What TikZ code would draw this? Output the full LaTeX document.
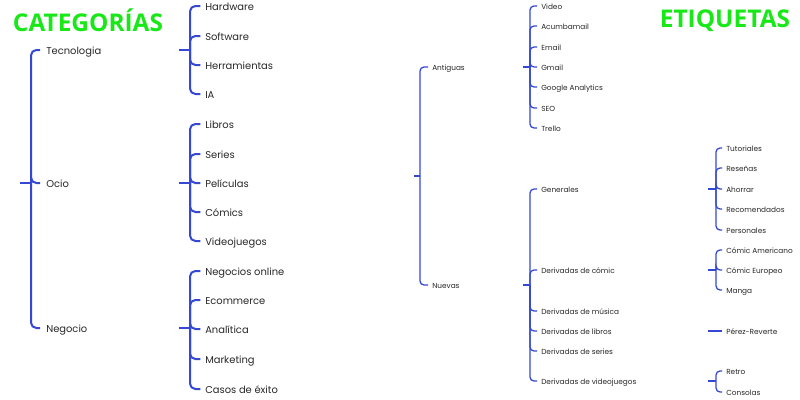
\documentclass[tikz,border=0pt]{standalone}
\usepackage{fontspec}
\setmainfont{Poppins}
\newfontfamily\titlefont{Open Sans}
\definecolor{treeblue}{RGB}{52,72,212}
\definecolor{titlegreen}{RGB}{24,232,24}
\definecolor{txt}{RGB}{40,40,40}
\tikzset{
  big/.style={draw=treeblue, line width=1.5pt, rounded corners=4pt},
  thin/.style={draw=treeblue, line width=0.95pt, rounded corners=3pt},
  lab/.style={anchor=west, inner sep=0pt, text height=6.2pt, text depth=0pt, text=txt, font=\fontsize{7.45}{9}\selectfont},
  slab/.style={anchor=west, inner sep=0pt, text height=4.5pt, text depth=0pt, text=txt, font=\fontsize{5.5}{7}\selectfont},
  ttl/.style={inner sep=0pt, text=titlegreen, font=\titlefont\bfseries\fontsize{18.3}{20}\selectfont},
}
\begin{document}
\begin{tikzpicture}[x=0.75pt,y=-0.75pt]
\fill[white] (0,0) rectangle (800,400);
\useasboundingbox (0,0) rectangle (800,400);

% titles
\node[ttl] (t1) at (88,20.5) {CATEGORÍAS};
\node[ttl] (t2) at (725,20.5) {ETIQUETAS};

% ---------- left tree ----------
\node[lab] (tec) at (46,50) {Tecnologia};
\node[lab] (ocio) at (46,183) {Ocio};
\node[lab] (neg) at (46,328) {Negocio};

\node[lab] (hw) at (205,6) {Hardware};
\node[lab] (sw) at (205,36) {Software};
\node[lab] (he) at (205,65) {Herramientas};
\node[lab] (ia) at (205,94) {IA};

\node[lab] (li) at (205,124) {Libros};
\node[lab] (se) at (205,154) {Series};
\node[lab] (pe) at (205,183) {Películas};
\node[lab] (co) at (205,212) {Cómics};
\node[lab] (vj) at (205,241) {Videojuegos};

\node[lab] (no) at (205,271) {Negocios online};
\node[lab] (ec) at (205,300) {Ecommerce};
\node[lab] (an) at (205,329) {Analítica};
\node[lab] (ma) at (205,359) {Marketing};
\node[lab] (ca) at (205,389) {Casos de éxito};

\coordinate (r0) at (20,183);
\coordinate (rv) at (31,183);
\draw[big] (r0) -- (rv);
\foreach \c in {tec,ocio,neg} \draw[big] (rv) |- ([xshift=-4.5pt]\c.west);

\coordinate (tj) at (179,50);  \coordinate (tv) at (190,50);
\coordinate (oj) at (179,183); \coordinate (ov) at (190,183);
\coordinate (nj) at (179,328); \coordinate (nv) at (190,328);
\draw[big] (tj) -- (tv);
\draw[big] (oj) -- (ov);
\draw[big] (nj) -- (nv);
\foreach \c in {hw,sw,he,ia} \draw[big] (tv) |- ([xshift=-3.5pt]\c.west);
\foreach \c in {li,se,pe,co,vj} \draw[big] (ov) |- ([xshift=-3.5pt]\c.west);
\foreach \c in {no,ec,an,ma,ca} \draw[big] (nv) |- ([xshift=-3.5pt]\c.west);

% ---------- middle tree ----------
\node[slab] (ant) at (432,67) {Antiguas};
\node[slab] (nue) at (432,285) {Nuevas};

\coordinate (m0) at (414,176);
\coordinate (mv) at (420,176);
\draw[thin] (m0) -- (mv);
\foreach \c in {ant,nue} \draw[thin] (mv) |- ([xshift=-3pt]\c.west);

\node[slab] (vid) at (541,6) {Video};
\node[slab] (acu) at (541,26) {Acumbamail};
\node[slab] (ema) at (541,47) {Email};
\node[slab] (gma) at (541,67) {Gmail};
\node[slab] (gan) at (541,87) {Google Analytics};
\node[slab] (seo) at (541,108) {SEO};
\node[slab] (tre) at (541,128) {Trello};

\coordinate (aj) at (523,67); \coordinate (av) at (530,67);
\draw[thin] (aj) -- (av);
\foreach \c in {vid,acu,ema,gma,gan,seo,tre} \draw[thin] (av) |- ([xshift=-3pt]\c.west);

\node[slab] (gen) at (541,189) {Generales};
\node[slab] (dco) at (541,270) {Derivadas de cómic};
\node[slab] (dmu) at (541,311) {Derivadas de música};
\node[slab] (dli) at (541,331) {Derivadas de libros};
\node[slab] (dse) at (541,351) {Derivadas de series};
\node[slab] (dvj) at (541,381) {Derivadas de videojuegos};

\coordinate (nuj) at (523,285); \coordinate (nuv) at (530,285);
\draw[thin] (nuj) -- (nuv);
\foreach \c in {gen,dco,dmu,dli,dse,dvj} \draw[thin] (nuv) |- ([xshift=-3pt]\c.west);

% ---------- right tree ----------
\node[slab] (tut) at (726,148) {Tutoriales};
\node[slab] (res) at (726,168) {Reseñas};
\node[slab] (aho) at (726,189) {Ahorrar};
\node[slab] (rec) at (726,209) {Recomendados};
\node[slab] (per) at (726,230) {Personales};

\coordinate (gj) at (708,189); \coordinate (gv) at (716,189);
\draw[thin] (gj) -- (gv);
\foreach \c in {tut,res,aho,rec,per} \draw[thin] (gv) |- ([xshift=-3pt]\c.west);

\node[slab] (cam) at (726,250) {Cómic Americano};
\node[slab] (ceu) at (726,270) {Cómic Europeo};
\node[slab] (man) at (726,290) {Manga};

\coordinate (cj) at (708,270); \coordinate (cv) at (716,270);
\draw[thin] (cj) -- (cv);
\foreach \c in {cam,ceu,man} \draw[thin] (cv) |- ([xshift=-3pt]\c.west);

\node[slab] (prv) at (726,331) {Pérez-Reverte};
\coordinate (lj) at (708,331);
\draw[thin] (lj) -- ([xshift=-3pt]prv.west);

\node[slab] (ret) at (726,371) {Retro};
\node[slab] (con) at (726,392) {Consolas};
\coordinate (vj0) at (708,381); \coordinate (vv) at (716,381);
\draw[thin] (vj0) -- (vv);
\foreach \c in {ret,con} \draw[thin] (vv) |- ([xshift=-3pt]\c.west);
\end{tikzpicture}
\end{document}
